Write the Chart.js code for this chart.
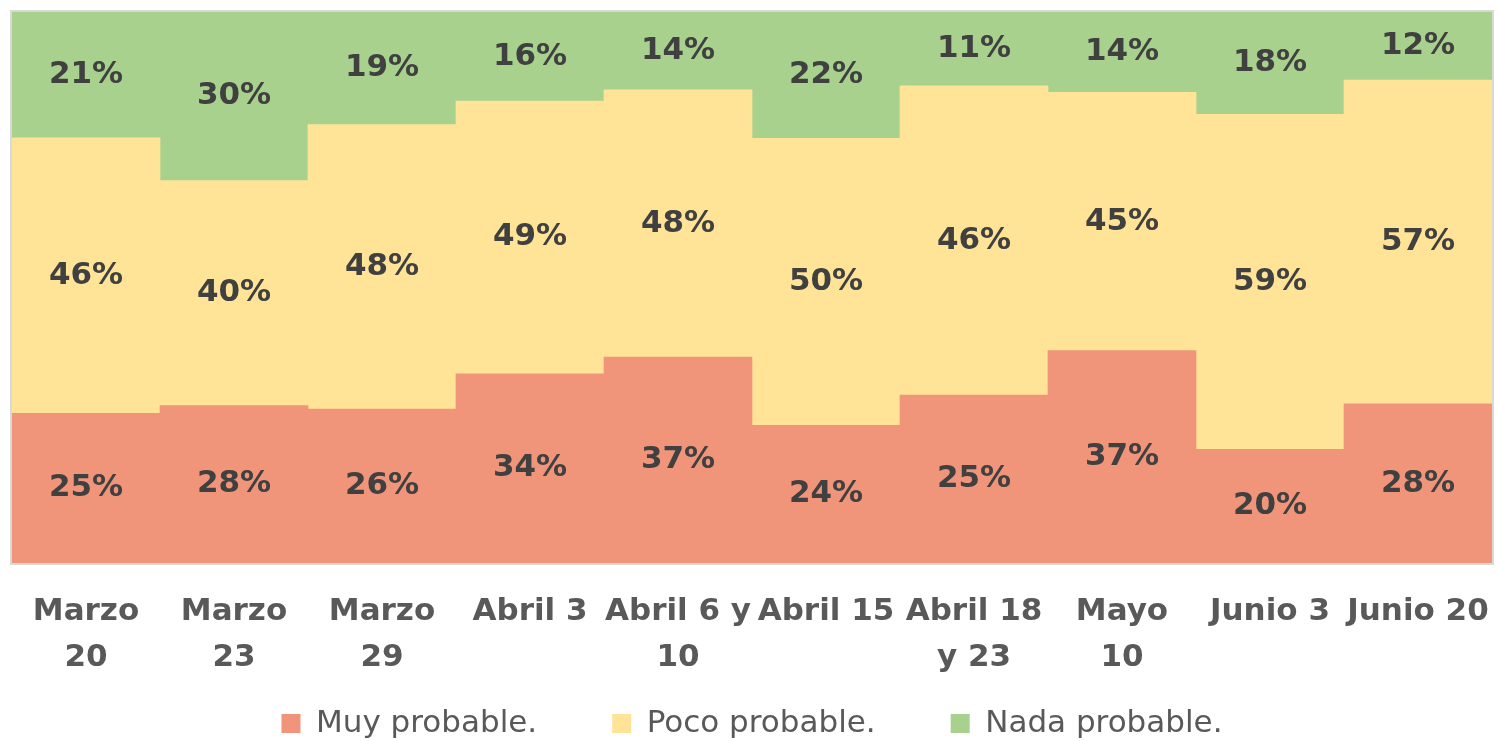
<!DOCTYPE html>
<html>
<head>
<meta charset="utf-8">
<script src="https://cdn.jsdelivr.net/npm/chart.js@4.4.1/dist/chart.umd.min.js"></script>
<style>
html,body{margin:0;padding:0;background:#fff;overflow:hidden;}
#wrap{width:1498px;height:741px;position:relative;}
canvas{display:block;}
</style>
</head>
<body>
<div id="wrap"><canvas id="c"></canvas></div>
<script>
const categories = [["Marzo","20"],["Marzo","23"],["Marzo","29"],"Abril 3",["Abril 6 y","10"],"Abril 15",["Abril 18","y 23"],["Mayo","10"],"Junio 3","Junio 20"];
const muyProbable  = [25,28,26,34,37,24,25,37,20,28];
const pocoProbable = [46,40,48,49,48,50,46,45,59,57];
const nadaProbable = [21,30,19,16,14,22,11,14,18,12];
const seriesNames = ["Muy probable.","Poco probable.","Nada probable."];

const raw = [muyProbable, pocoProbable, nadaProbable];
const totals = categories.map((_, i) => raw.reduce((s, arr) => s + arr[i], 0));
const share = arr => arr.map((v, i) => v / totals[i] * 100);

const colors = ["#F1957A", "#FFE497", "#A9D18E"];

const labelPlugin = {
  id: 'segLabels',
  afterDatasetsDraw(chart) {
    const ctx = chart.ctx;
    ctx.save();
    ctx.font = 'bold 31px "DejaVu Sans"';
    ctx.fillStyle = '#404040';
    ctx.textAlign = 'center';
    ctx.textBaseline = 'middle';
    chart.data.datasets.forEach((ds, di) => {
      const meta = chart.getDatasetMeta(di);
      meta.data.forEach((el, i) => {
        const y = (el.y + el.base) / 2;
        ctx.fillText(ds.rawValues[i] + '%', el.x, y);
      });
    });
    const a = chart.chartArea;
    ctx.strokeStyle = '#d9d9d9';
    ctx.lineWidth = 2;
    ctx.strokeRect(a.left - 1, a.top - 1, a.right - a.left + 2, a.bottom - a.top + 2);
    ctx.restore();
  }
};

new Chart(document.getElementById('c'), {
  type: 'bar',
  data: {
    labels: categories,
    datasets: raw.map((arr, k) => ({
      label: seriesNames[k],
      data: share(arr),
      rawValues: arr,
      backgroundColor: colors[k],
      borderWidth: 0,
      barPercentage: 1,
      categoryPercentage: 1
    }))
  },
  options: {
    responsive: true,
    maintainAspectRatio: false,
    animation: false,
    layout: { padding: { left: 12, right: 6, top: 12, bottom: 0 } },
    scales: {
      x: {
        stacked: true,
        grid: { display: true, drawOnChartArea: false, drawTicks: true, tickLength: 26, tickColor: 'rgba(0,0,0,0)', color: 'rgba(0,0,0,0)' },
        border: { display: false },
        afterFit(scale) {
          scale.height = 70;
          scale._computeLabelArea = function () { return undefined; };
        },
        ticks: {
          autoSkip: false,
          maxRotation: 0,
          minRotation: 0,
          padding: 0,
          color: '#595959',
          font: { family: '"DejaVu Sans"', size: 31, weight: 'bold', lineHeight: 1.48 }
        }
      },
      y: {
        stacked: true,
        min: 0,
        max: 100,
        display: false
      }
    },
    plugins: {
      legend: {
        position: 'bottom',
        maxHeight: 108,
        labels: {
          boxWidth: 19,
          boxHeight: 19,
          padding: 75,
          color: '#595959',
          font: { family: '"DejaVu Sans"', size: 31 }
        }
      },
      tooltip: { enabled: false }
    }
  },
  plugins: [labelPlugin]
});
</script>
</body>
</html>
